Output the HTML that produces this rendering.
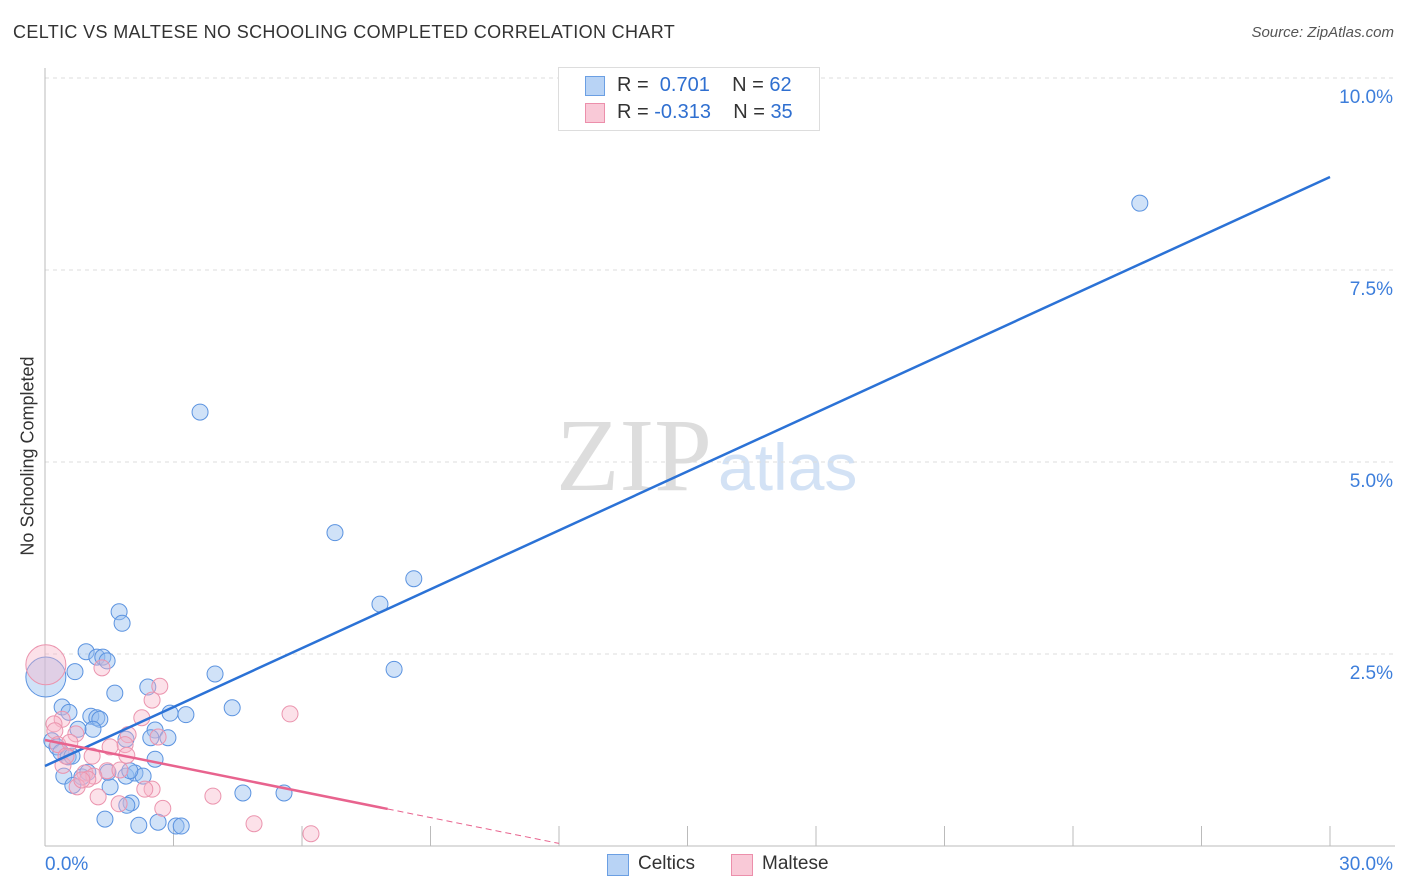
<!DOCTYPE html>
<html><head><meta charset="utf-8"><style>
body{margin:0;background:#fff;font-family:"Liberation Sans",sans-serif;}
#wrap{position:relative;width:1406px;height:892px;overflow:hidden;}
.t{position:absolute;white-space:nowrap;}
</style></head><body><div id="wrap">
<div class="t" style="left:13px;top:22px;font-size:18px;letter-spacing:0.35px;color:#333;">CELTIC VS MALTESE NO SCHOOLING COMPLETED CORRELATION CHART</div>
<div class="t" style="right:12px;top:24px;font-size:15px;color:#555;font-style:italic;">Source: ZipAtlas.com</div>
<div class="t" style="left:28px;top:456px;font-size:18px;color:#333;transform:translate(-50%,-50%) rotate(-90deg);">No Schooling Completed</div>
<svg id="svg" width="1406" height="892" style="position:absolute;left:0;top:0"></svg>
<div class="t" style="left:558px;top:67px;width:260px;height:62px;border:1px solid #ddd;background:#fff;">
 <div style="position:absolute;left:26px;top:8px;width:18px;height:18px;background:#b8d3f5;border:1px solid #6b9fe3;"></div>
 <div class="t" style="left:58px;top:6px;font-size:20px;color:#333;">R = &nbsp;<span style="color:#2f6fd0">0.701</span>&nbsp;&nbsp;&nbsp; N = <span style="color:#2f6fd0">62</span></div>
 <div style="position:absolute;left:26px;top:35px;width:18px;height:18px;background:#f9c9d7;border:1px solid #ec8fab;"></div>
 <div class="t" style="left:58px;top:33px;font-size:20px;color:#333;">R = <span style="color:#2f6fd0">-0.313</span>&nbsp;&nbsp;&nbsp; N = <span style="color:#2f6fd0">35</span></div>
</div>
<div style="position:absolute;left:607px;top:854px;width:20px;height:20px;background:#b8d3f5;border:1px solid #6b9fe3;"></div>
<div class="t" style="left:638px;top:853px;font-size:19px;color:#333;">Celtics</div>
<div style="position:absolute;left:731px;top:854px;width:20px;height:20px;background:#f9c9d7;border:1px solid #ec8fab;"></div>
<div class="t" style="left:762px;top:853px;font-size:19px;color:#333;">Maltese</div>
</div>
<script>
const blueX=[25.56,3.62,6.77,8.61,7.82,8.15,1.73,1.80,0.96,1.21,1.35,1.45,0.70,1.63,3.97,2.40,4.37,3.29,2.92,0.40,0.56,1.07,1.21,1.28,1.12,0.77,2.57,2.47,2.87,1.89,0.16,0.28,0.37,0.54,0.63,2.57,0.44,0.86,0.65,1.52,1.89,2.10,2.29,1.98,1.47,4.62,5.58,2.01,1.91,1.40,2.19,2.64,3.06,3.18,1.00];
const blueY=[8.37,5.65,4.08,3.48,3.15,2.30,3.05,2.90,2.53,2.46,2.46,2.41,2.27,1.99,2.24,2.07,1.80,1.71,1.73,1.81,1.74,1.69,1.67,1.65,1.52,1.52,1.51,1.41,1.41,1.39,1.37,1.29,1.22,1.16,1.17,1.13,0.91,0.90,0.79,0.77,0.91,0.95,0.91,0.98,0.96,0.69,0.69,0.56,0.53,0.35,0.27,0.31,0.26,0.26,0.96];
const pinkX=[1.33,2.68,2.50,5.72,2.26,0.40,0.21,0.23,0.72,1.94,2.64,1.87,1.52,1.10,1.91,0.42,1.45,0.93,1.14,1.00,0.75,1.24,1.73,2.50,2.33,2.75,3.92,4.88,6.21,0.86,0.30,0.58,0.49,1.75];
const pinkY=[2.32,2.08,1.90,1.72,1.67,1.65,1.59,1.50,1.46,1.45,1.42,1.32,1.29,1.17,1.18,1.05,0.98,0.95,0.91,0.87,0.77,0.64,0.55,0.74,0.74,0.49,0.65,0.29,0.16,0.86,1.32,1.35,1.17,0.99];
const bigX=[0.02,0.02];const bigY=[2.20,2.36];
const blueTrend=[1.042,8.711];const pinkTrend=[1.380,-0.1122];
const yTicks=[2.5,5.0,7.5,10.0];
const xTickVals=[0,3,6,9,12,15,18,21,24,27,30];
const NS='http://www.w3.org/2000/svg';
const svg=document.getElementById('svg');
const X=v=>45+v/30*1285, Y=v=>846-v/10*768;
function mk(t,a){const e=document.createElementNS(NS,t);for(const k in a)e.setAttribute(k,a[k]);svg.appendChild(e);return e;}
let e;
e=mk('text',{x:634,y:490,'font-size':104,'font-family':'Liberation Serif,serif',fill:'#ddd','text-anchor':'middle'});e.textContent='ZIP';


e=mk('text',{x:718,y:490,'font-size':66,'font-family':'Liberation Sans,sans-serif',fill:'#d3e2f5'});e.textContent='atlas';


yTicks.forEach(v=>{
 e=mk('line',{x1:45,x2:1395,y1:Y(v),y2:Y(v),stroke:'#ddd','stroke-dasharray':'4,4'});
 
 
 e=mk('text',{x:1393,y:Y(v)+25,'font-size':19,fill:'#3d7edb','text-anchor':'end','font-family':'Liberation Sans,sans-serif'});e.textContent=v.toFixed(1)+'%';
 
 
});
e=mk('line',{x1:45,x2:45,y1:68,y2:846,stroke:'#bbb'});


e=mk('line',{x1:45,x2:1395,y1:846,y2:846,stroke:'#bbb'});


xTickVals.forEach(v=>{
 e=mk('line',{x1:X(v),x2:X(v),y1:826,y2:846,stroke:'#bbb'});
 
 
});
e=mk('text',{x:45,y:870,'font-size':19,fill:'#3d7edb','font-family':'Liberation Sans,sans-serif'});e.textContent='0.0%';


e=mk('text',{x:1393,y:870,'font-size':19,fill:'#3d7edb','text-anchor':'end','font-family':'Liberation Sans,sans-serif'});e.textContent='30.0%';


blueX.forEach((x,i)=>{
 e=mk('circle',{cx:X(x),cy:Y(blueY[i]),r:8,fill:'rgba(150,190,240,0.45)',stroke:'#5b93e0','stroke-width':1});
 
 
});
pinkX.forEach((x,i)=>{
 e=mk('circle',{cx:X(x),cy:Y(pinkY[i]),r:8,fill:'rgba(248,180,200,0.4)',stroke:'#eb94ae','stroke-width':1});
 
 
});
e=mk('circle',{cx:X(bigX[0]),cy:Y(bigY[0]),r:20,fill:'rgba(150,190,240,0.45)',stroke:'#5b93e0'});


e=mk('circle',{cx:X(bigX[1]),cy:Y(bigY[1]),r:20,fill:'rgba(248,180,200,0.4)',stroke:'#eb94ae'});


e=mk('line',{x1:X(0),y1:Y(blueTrend[0]),x2:X(30),y2:Y(blueTrend[1]),stroke:'#2b72d6','stroke-width':2.5});


const pf=x=>pinkTrend[0]+pinkTrend[1]*x;
e=mk('line',{x1:X(0),y1:Y(pf(0)),x2:X(8),y2:Y(pf(8)),stroke:'#e8638e','stroke-width':2.5});


e=mk('line',{x1:X(8),y1:Y(pf(8)),x2:X(12),y2:Y(pf(12)),stroke:'#e8638e','stroke-width':1,'stroke-dasharray':'6,4'});


</script></body></html>
